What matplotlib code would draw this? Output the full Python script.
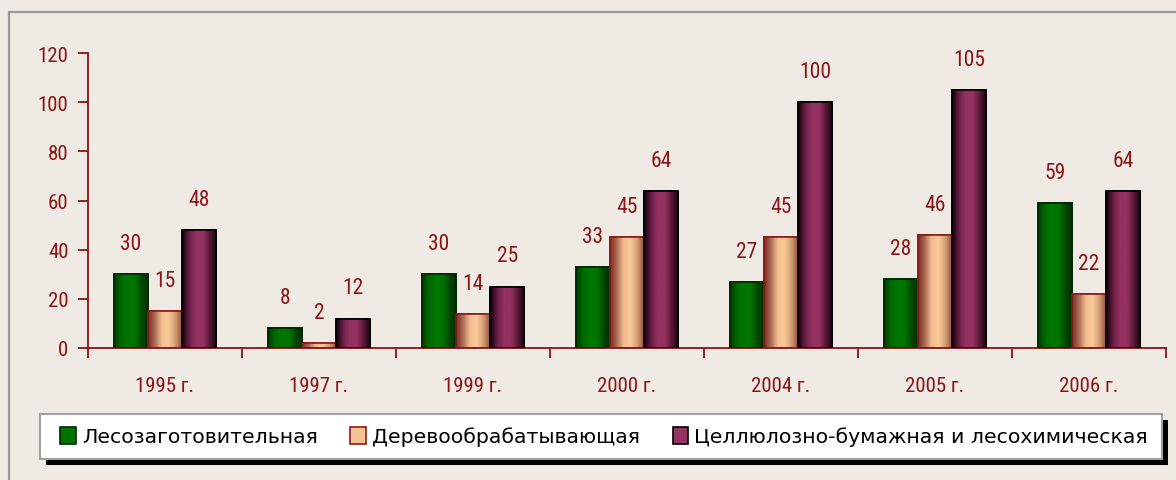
import matplotlib
matplotlib.use("Agg")
import matplotlib.pyplot as plt
import numpy as np
from matplotlib.colors import LinearSegmentedColormap
from matplotlib.patches import Rectangle
from matplotlib.font_manager import fontManager

categories = ["1995 г.", "1997 г.", "1999 г.", "2000 г.", "2004 г.", "2005 г.", "2006 г."]
series_names = ["Лесозаготовительная", "Деревообрабатывающая",
                "Целлюлозно-бумажная и лесохимическая"]
logging = [30, 8, 30, 33, 27, 28, 59]
woodworking = [15, 2, 14, 45, 45, 46, 22]
pulp_paper = [48, 12, 25, 64, 100, 105, 64]
yticks = [0, 20, 40, 60, 80, 100, 120]

BG = "#EFEBE4"
RED = "#8B1414"

names = {f.name for f in fontManager.ttflist}
narrow = "Liberation Sans Narrow" if "Liberation Sans Narrow" in names else "Roboto Condensed" if "Roboto Condensed" in names else "Liberation Sans"

W, H = 1176, 481
fig = plt.figure(figsize=(W / 100, H / 100), dpi=100, facecolor=BG)

# outer frame (top & left lines visible)
fig.patches.append(Rectangle((9 / W, -0.1), 1.2, (H - 13) / H + 0.1, transform=fig.transFigure,
                             fill=False, edgecolor="#999999", linewidth=1.6, zorder=0))

ax = fig.add_axes([88 / W, (H - 349) / H, (1166 - 88) / W, (349 - 54) / H])
ax.set_facecolor("none")

gradients = [
    ["#003c00", "#006a00", "#007800", "#007400", "#004800", "#002a00"],
    ["#7a2a20", "#b07058", "#f3bf90", "#f8c898", "#d09a70", "#8a4a35"],
    ["#120008", "#6a1f45", "#943262", "#963262", "#5a1838", "#12040c"],
]
edges = ["#002800", "#8B1A1A", "#000000"]
solid = ["#007400", "#f6c494", "#943262"]

n = len(categories)
x = np.arange(n)
bw = 0.222
data = [logging, woodworking, pulp_paper]
for i, vals in enumerate(data):
    cmap = LinearSegmentedColormap.from_list(f"g{i}", gradients[i])
    bars = ax.bar(x + (i - 1) * bw, vals, width=bw, color=solid[i], edgecolor=edges[i],
                  linewidth=1.2, zorder=2)
    grad = np.linspace(0, 1, 64).reshape(1, -1)
    for b, v in zip(bars, vals):
        x0, y0 = b.get_x(), b.get_y()
        im = ax.imshow(grad, cmap=cmap, aspect="auto", extent=(x0, x0 + b.get_width(), 0, v),
                       zorder=2.5, interpolation="bilinear")
        im.set_clip_path(b)
        ax.add_patch(Rectangle((x0, 0), b.get_width(), v, fill=False, edgecolor=edges[i],
                               linewidth=1.2, zorder=3))
        ax.annotate(str(v), (b.get_x() + b.get_width() / 2, v), xytext=(0, 22),
                    textcoords="offset points", ha="center", va="center",
                    color=RED, fontsize=15.5, family=[narrow, "DejaVu Sans"], zorder=4)

ax.set_xlim(-0.5, n - 0.5)
ax.set_ylim(0, 120)
ax.set_yticks(yticks)
ax.set_xticks(x)
ax.set_xticklabels(categories)
ax.set_xticks(np.arange(n + 1) - 0.5, minor=True)
for s in ["top", "right"]:
    ax.spines[s].set_visible(False)
for s in ["left", "bottom"]:
    ax.spines[s].set_color(RED)
    ax.spines[s].set_linewidth(1.3)
ax.tick_params(axis="y", direction="out", length=7, width=1.3, color=RED, pad=7,
               labelcolor=RED, labelsize=15)
ax.tick_params(axis="x", which="major", length=0, pad=20, labelcolor=RED, labelsize=15)
ax.tick_params(axis="x", which="minor", direction="out", length=7, width=1.3, color=RED)
for lab in ax.get_xticklabels() + ax.get_yticklabels():
    lab.set_family([narrow, "DejaVu Sans"])

# legend box with shadow
lx0, ly0, lx1, ly1 = 40, 415, 1162, 460
fig.patches.append(Rectangle(((lx0 + 6) / W, (H - ly1 - 6) / H), (lx1 - lx0) / W, (ly1 - ly0) / H,
                             transform=fig.transFigure, facecolor="black", edgecolor="none", zorder=1))
fig.patches.append(Rectangle((lx0 / W, (H - ly1) / H), (lx1 - lx0) / W, (ly1 - ly0) / H,
                             transform=fig.transFigure, facecolor="white", edgecolor="#A0A0A0",
                             linewidth=1.5, zorder=2))
handles = [Rectangle((0, 0), 1, 1, facecolor=solid[i], edgecolor=edges[i], linewidth=1.2)
           for i in range(3)]
leg = fig.legend(handles, series_names, loc="center", ncol=3, frameon=False,
                 bbox_to_anchor=((lx0 + lx1) / 2 / W + 3 / W, (H - (ly0 + ly1) / 2) / H),
                 handlelength=0.75, handleheight=0.9, handletextpad=0.3,
                 columnspacing=1.6, prop={"family": "DejaVu Sans", "size": 14.7})
leg.set_zorder(5)

fig.savefig("out.png", dpi=100, facecolor=BG)
